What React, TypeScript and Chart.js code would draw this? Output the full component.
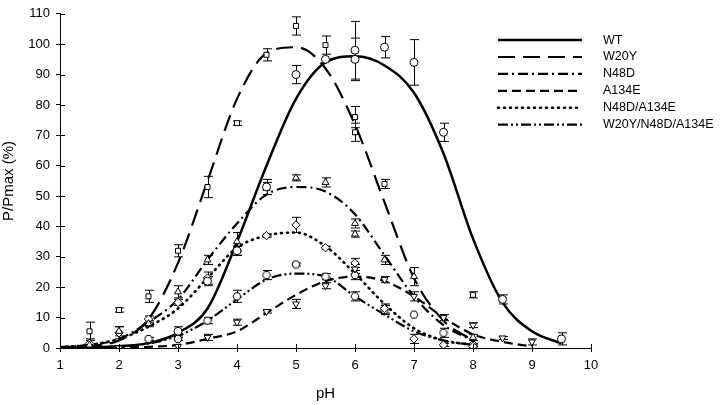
import React, { useEffect, useRef } from "react";
import { Chart, registerables } from "chart.js";
Chart.register(...registerables);

// ---------- data ----------
const seriesNames = ["WT", "W20Y", "N48D", "A134E", "N48D/A134E", "W20Y/N48D/A134E"];

// fitted curves, sampled along pH
const curvePH = [1, 1.5, 2, 2.5, 3, 3.5, 4, 4.5, 5, 5.5, 6, 6.5, 7, 7.5, 8, 8.5, 9, 9.5];
const curveWT = [0.2, 0.3, 0.6, 1.6, 5, 13, 35, 60, 82, 94, 96, 93, 84, 64, 36, 15, 5.5, 1.5];
const curveW20Y = [0.2, 0.6, 2.5, 9.5, 28, 55, 82, 97, 99, 92, 73.5, 48, 23, 9, 2.5, null, null, null];
const curveN48D = [0.3, 1, 3, 8.5, 16, 29, 41, 50.5, 53, 51.5, 44, 30.5, 17, 7.5, 2.5, null, null, null];
const curveA134E = [0, 0, 0.1, 0.4, 1, 3, 5.5, 11.5, 17.5, 22, 23.5, 22, 17, 10, 4.5, 2, 0.5, null];
const curveDbl = [0.3, 1, 3, 7, 13, 23, 33, 37, 38, 33.5, 24.5, 14.5, 6.5, 2.5, 1, null, null, null];
const curveTriple = [0.1, 0.2, 0.5, 1.5, 4, 9, 16, 22.5, 24.5, 23.5, 17, 11, 5.5, 2.5, 1, null, null, null];

// measured points: pH, value, error
const wtPH = [3, 3.5, 4, 4.5, 5, 5.5, 6, 6, 6.5, 7, 7.5, 8.5, 9.5];
const wtVal = [5.5, 22, 32, 53, 90, 95, 98, 95, 99, 94, 71, 16, 3];
const wtErr = [1.5, 1.5, 1.5, 2.5, 3, 0, 9.5, 7, 3.5, 7.5, 3, 1.5, 2];

const w20yPH = [1.5, 2, 2.5, 3, 3.5, 4, 4.5, 5, 5.5, 6, 6, 6.5, 8];
const w20yVal = [5.5, 12.5, 17, 32, 53, 74, 96.5, 106, 99.7, 76, 71, 54, 17.5];
const w20yErr = [3, 0.7, 2, 2, 3.5, 0.7, 2, 3, 3, 3.5, 3, 1.5, 1];

const n48dPH = [1.5, 2, 2.5, 3, 3.5, 4, 4.5, 5, 5.5, 6, 6, 6.5, 7, 8];
const n48dVal = [1, 5.5, 8, 18.5, 29, 35, 52.5, 56, 54.5, 41, 37.5, 29, 23.5, 3.5];
const n48dErr = [0, 1.5, 1, 2, 1.5, 3, 2, 1, 1.5, 1.5, 1, 1.5, 3, 1];

const a134ePH = [2, 3, 3.5, 4, 4.5, 5, 5.5, 6, 6.5, 7, 7.5, 8, 8.5, 9];
const a134eVal = [0, 0.5, 3.5, 8.5, 12, 14.5, 20.5, 26, 22.5, 17, 10, 7.5, 3.3, 2];
const a134eErr = [0, 0, 1, 1, 0.5, 1.5, 1, 1.5, 1, 1.5, 1, 0.8, 0.5, 1];

const dblPH = [1.5, 2, 2.5, 3, 3.5, 4, 4.5, 5, 5.5, 6, 6.5, 7, 7.5, 8];
const dblVal = [1.5, 5, 9.5, 15, 23, 32, 37, 40.5, 33, 28, 13, 3, 1, 0.5];
const dblErr = [1.5, 2, 1, 1, 2, 1.5, 0.5, 2.5, 0.5, 1.5, 1.5, 1.5, 0.5, 0.5];

const triplePH = [2.5, 3, 3.5, 4, 4.5, 5, 5.5, 6, 6, 6.5, 7, 7.5, 8];
const tripleVal = [3, 3, 9, 17, 24, 27.5, 23.5, 24, 17, 12.5, 11, 5, 1];
const tripleErr = [0.5, 0.5, 1, 2, 1.5, 0.5, 1, 1.5, 1.5, 1.5, 0, 1.5, 0.5];

const xTicks = [1, 2, 3, 4, 5, 6, 7, 8, 9, 10];
const yTicks = [0, 10, 20, 30, 40, 50, 60, 70, 80, 90, 100, 110];

// ---------- helpers ----------
const curves = [curveWT, curveW20Y, curveN48D, curveA134E, curveDbl, curveTriple];
const pointSets = [
  [wtPH, wtVal, wtErr],
  [w20yPH, w20yVal, w20yErr],
  [n48dPH, n48dVal, n48dErr],
  [a134ePH, a134eVal, a134eErr],
  [dblPH, dblVal, dblErr],
  [triplePH, tripleVal, tripleErr],
];
const dashes: number[][] = [[], [17, 8], [10, 4, 2, 4], [9, 5], [1, 5], [10, 3, 2, 3, 2, 3]];
const lineWidths = [2.5, 2.2, 2.2, 2.2, 2.6, 2.2];

function makeHexagon(size: number) {
  const c = document.createElement("canvas");
  c.width = size;
  c.height = size;
  const g = c.getContext("2d")!;
  const r = size / 2 - 1;
  g.beginPath();
  for (let i = 0; i < 6; i++) {
    const a = (Math.PI / 3) * i;
    const px = size / 2 + r * Math.cos(a);
    const py = size / 2 + r * Math.sin(a);
    if (i === 0) g.moveTo(px, py);
    else g.lineTo(px, py);
  }
  g.closePath();
  g.fillStyle = "#fff";
  g.fill();
  g.strokeStyle = "#000";
  g.lineWidth = 1;
  g.stroke();
  return c;
}

export default function App() {
  const ref = useRef<HTMLCanvasElement | null>(null);
  useEffect(() => {
    document.body.style.margin = "0";
    const canvas = ref.current!;
    const hex = makeHexagon(10);
    const pointStyles: any[] = ["circle", "rect", "triangle", "triangle", "rectRot", hex];
    const pointRot = [0, 0, 0, 180, 0, 0];
    const pointRad = [4, 3.5, 4, 4, 4.2, 5];

    const datasets: any[] = [];
    curves.forEach((cv, i) => {
      datasets.push({
        type: "scatter",
        label: seriesNames[i] + " fit",
        data: curvePH.map((x, k) => ({ x, y: cv[k] })),
        showLine: true,
        borderColor: "#000",
        borderWidth: lineWidths[i],
        borderDash: dashes[i],
        borderCapStyle: i === 4 ? "round" : "butt",
        pointRadius: 0,
        cubicInterpolationMode: "monotone",
        fill: false,
        order: 2,
      });
    });
    pointSets.forEach((ps, i) => {
      const [xs, ys, es] = ps;
      datasets.push({
        type: "scatter",
        label: seriesNames[i],
        data: xs.map((x, k) => ({ x, y: ys[k], err: es[k] })),
        showLine: false,
        pointStyle: pointStyles[i],
        rotation: pointRot[i],
        pointRadius: pointRad[i],
        backgroundColor: "#fff",
        borderColor: "#000",
        borderWidth: 1,
        order: 1,
      });
    });

    const errorBars = {
      id: "errorBars",
      beforeDatasetsDraw(chart: any) {
        const { ctx, scales } = chart;
        const xs = scales.x;
        const ysc = scales.y;
        ctx.save();
        ctx.strokeStyle = "#000";
        ctx.lineWidth = 1;
        ctx.setLineDash([]);
        pointSets.forEach((ps) => {
          const [px, pv, pe] = ps;
          px.forEach((x, k) => {
            const e = pe[k];
            if (!e) return;
            const cx = Math.round(xs.getPixelForValue(x)) + 0.5;
            const yt = ysc.getPixelForValue(pv[k] + e);
            const yb = ysc.getPixelForValue(pv[k] - e);
            ctx.beginPath();
            ctx.moveTo(cx, yt);
            ctx.lineTo(cx, yb);
            ctx.moveTo(cx - 4.5, yt);
            ctx.lineTo(cx + 4.5, yt);
            ctx.moveTo(cx - 4.5, yb);
            ctx.lineTo(cx + 4.5, yb);
            ctx.stroke();
          });
        });
        ctx.restore();
      },
    };

    const innerTicks = {
      id: "innerTicks",
      afterDraw(chart: any) {
        const { ctx, scales, chartArea } = chart;
        ctx.save();
        ctx.strokeStyle = "#000";
        ctx.lineWidth = 1;
        ctx.setLineDash([]);
        ctx.beginPath();
        xTicks.forEach((v) => {
          const px = Math.round(scales.x.getPixelForValue(v)) + 0.5;
          ctx.moveTo(px, chartArea.bottom);
          ctx.lineTo(px, chartArea.bottom - 4);
        });
        yTicks.forEach((v) => {
          const py = Math.round(scales.y.getPixelForValue(v)) + 0.5;
          ctx.moveTo(chartArea.left, py);
          ctx.lineTo(chartArea.left + 5, py);
        });
        ctx.stroke();
        ctx.restore();
      },
    };

    const legendPlugin = {
      id: "customLegend",
      afterDraw(chart: any) {
        const { ctx, chartArea } = chart;
        const x0 = chartArea.right - 93;
        const x1 = chartArea.right - 9;
        const tx = chartArea.right + 12;
        ctx.save();
        ctx.font = "12.5px 'Liberation Sans', Arial, sans-serif";
        ctx.fillStyle = "#000";
        ctx.textBaseline = "middle";
        seriesNames.forEach((name, i) => {
          const y = chartArea.top + 26.3 + i * 16.9;
          ctx.beginPath();
          ctx.setLineDash(dashes[i]);
          ctx.lineCap = i === 4 ? "round" : "butt";
          ctx.lineWidth = lineWidths[i];
          ctx.strokeStyle = "#000";
          ctx.moveTo(x0, y);
          ctx.lineTo(x1, y);
          ctx.stroke();
          ctx.setLineDash([]);
          ctx.fillText(name, tx, y);
        });
        ctx.restore();
      },
    };

    const tickFont = { family: "'Liberation Sans', Arial, sans-serif", size: 13 };
    const titleFont = { family: "'Liberation Sans', Arial, sans-serif", size: 15 };

    const chart = new Chart(canvas, {
      type: "scatter",
      data: { datasets },
      plugins: [errorBars, innerTicks, legendPlugin],
      options: {
        responsive: false,
        animation: false,
        devicePixelRatio: 1,
        layout: { padding: { left: 0, right: 129, top: 7, bottom: 0 } },
        plugins: { legend: { display: false }, tooltip: { enabled: false } },
        scales: {
          x: {
            type: "linear",
            min: 1,
            max: 10,
            afterFit(s: any) {
              s.height = 57;
            },
            afterBuildTicks(s: any) {
              s.ticks = xTicks.map((v) => ({ value: v }));
            },
            ticks: { color: "#000", font: tickFont, padding: 6, maxRotation: 0 },
            grid: { drawOnChartArea: false, color: "#000", tickLength: 4, lineWidth: 1 },
            border: { color: "#000", width: 1 },
            title: { display: true, text: "pH", color: "#000", font: titleFont, padding: { top: 0, bottom: 2 } },
          },
          y: {
            type: "linear",
            min: 0,
            max: 110,
            afterFit(s: any) {
              s.width = 60;
            },
            afterBuildTicks(s: any) {
              s.ticks = yTicks.map((v) => ({ value: v }));
            },
            ticks: { color: "#000", font: tickFont, padding: 6 },
            grid: { drawOnChartArea: false, color: "#000", tickLength: 4, lineWidth: 1 },
            border: { color: "#000", width: 1 },
            title: { display: true, text: "P/Pmax (%)", color: "#000", font: titleFont, padding: { top: 0, bottom: 0 } },
          },
        },
      } as any,
    });
    return () => chart.destroy();
  }, []);
  return (
    <div style={{ position: "absolute", left: 0, top: 0, width: 720, height: 405, background: "#fff" }}>
      <canvas ref={ref} width={720} height={405} style={{ display: "block", width: 720, height: 405 }} />
    </div>
  );
}
